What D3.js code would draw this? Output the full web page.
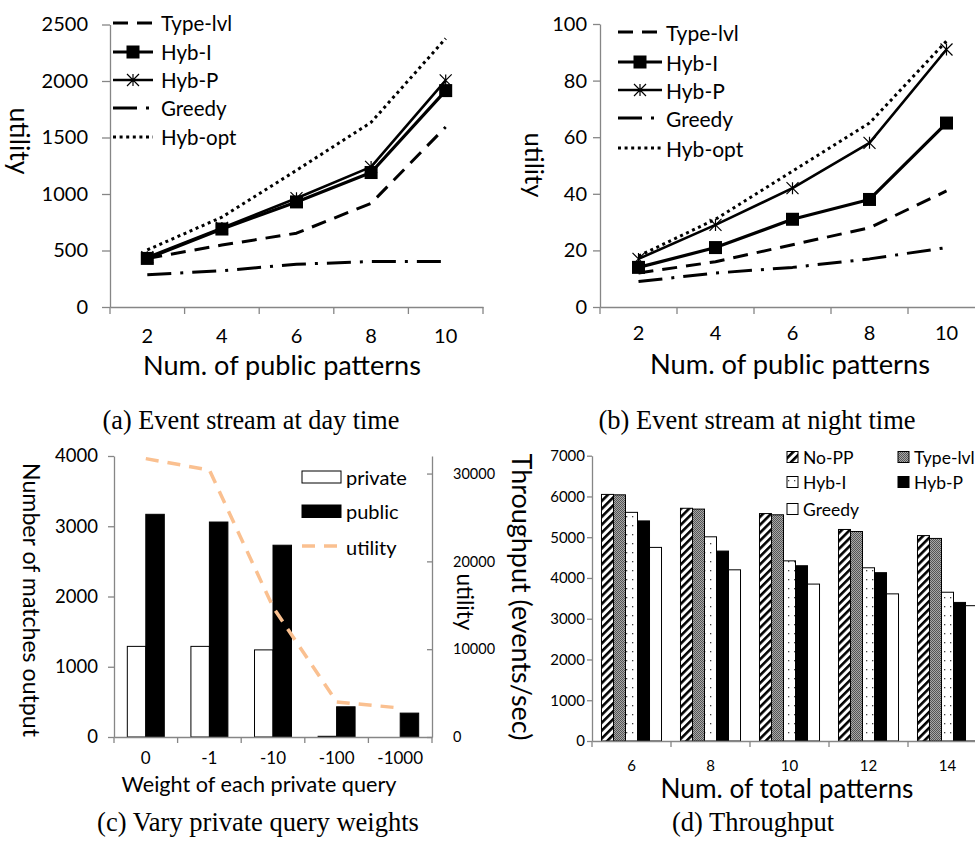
<!DOCTYPE html>
<html><head><meta charset="utf-8">
<script src="https://cdn.jsdelivr.net/npm/d3@7"></script>
<style>
html,body{margin:0;padding:0;background:#fff;}
svg{display:block;}
</style></head>
<body>
<svg id="chart" width="975" height="856"></svg>
<script>
// ---------- DATA ----------
const patternsAB = [2, 4, 6, 8, 10];
const lineSeries = ['Type-lvl', 'Hyb-I', 'Hyb-P', 'Greedy', 'Hyb-opt'];
const dayTypeLvl = [430, 548, 653, 918, 1593];
const dayHybI    = [430, 690, 930, 1190, 1915];
const dayHybP    = [440, 700, 963, 1240, 2005];
const dayGreedy  = [285, 321, 378, 402, 402];
const dayHybOpt  = [505, 795, 1210, 1634, 2376];
const nightTypeLvl = [12, 16, 22, 28, 41];
const nightHybI    = [14, 21, 31, 38, 65];
const nightHybP    = [17, 29, 42, 58, 91];
const nightGreedy  = [9, 12, 14, 17, 21];
const nightHybOpt  = [18, 31, 48, 65, 94];
const ticksDay = [0, 500, 1000, 1500, 2000, 2500];
const ticksNight = [0, 20, 40, 60, 80, 100];

const weights = ['0', '-1', '-10', '-100', '-1000'];
const barSeriesC = ['private', 'public'];
const privateMatches = [1290, 1290, 1240, 10, 0];
const publicMatches  = [3170, 3060, 2730, 430, 340];
const utilityC       = [31700, 30400, 14800, 4000, 3300];
const ticksCLeft  = [0, 1000, 2000, 3000, 4000];
const ticksCRight = [0, 10000, 20000, 30000];

const totalPatterns = ['6', '8', '10', '12', '14'];
const barSeriesD = ['No-PP', 'Type-lvl', 'Hyb-I', 'Hyb-P', 'Greedy'];
const tpNoPP    = [6050, 5710, 5580, 5190, 5040];
const tpTypeLvl = [6040, 5690, 5550, 5140, 4970];
const tpHybI    = [5610, 5010, 4420, 4250, 3650];
const tpHybP    = [5400, 4660, 4300, 4130, 3400];
const tpGreedy  = [4750, 4200, 3850, 3610, 3320];
const ticksD = [0, 1000, 2000, 3000, 4000, 5000, 6000, 7000];

// ---------- SETUP ----------
const FONT = 'Lato, "Open Sans", sans-serif';
const SERIF = '"Liberation Serif", "Times New Roman", serif';
const AXIS = '#868686';
const fmt = d3.format('d');
const svg = d3.select('#chart');
svg.append('rect').attr('width', 975).attr('height', 856).attr('fill', '#fff');

const defs = svg.append('defs');
// No-PP diagonal stripes
const pStripe = defs.append('pattern').attr('id', 'stripe').attr('patternUnits', 'userSpaceOnUse')
  .attr('width', 5.6).attr('height', 5.6).attr('patternTransform', 'rotate(45)');
pStripe.append('rect').attr('width', 5.6).attr('height', 5.6).attr('fill', '#fff');
pStripe.append('rect').attr('width', 2.6).attr('height', 5.6).attr('fill', '#000');
// Type-lvl gray checker
const pCheck = defs.append('pattern').attr('id', 'checker').attr('patternUnits', 'userSpaceOnUse')
  .attr('width', 2).attr('height', 2);
pCheck.append('rect').attr('width', 2).attr('height', 2).attr('fill', '#a8a8a8');
pCheck.append('rect').attr('width', 1).attr('height', 1).attr('fill', '#555');
pCheck.append('rect').attr('x', 1).attr('y', 1).attr('width', 1).attr('height', 1).attr('fill', '#555');
// Hyb-I sparse dots
const pDots = defs.append('pattern').attr('id', 'dots').attr('patternUnits', 'userSpaceOnUse')
  .attr('width', 6).attr('height', 9);
pDots.append('rect').attr('width', 6).attr('height', 9).attr('fill', '#fff');
pDots.append('rect').attr('x', 2).attr('y', 3).attr('width', 1.3).attr('height', 1.3).attr('fill', '#444');

function fitText(t, w) {
  const l = t.node().getComputedTextLength();
  const fs = parseFloat(t.attr('font-size'));
  t.attr('font-size', (fs * w / l).toFixed(2));
  return t;
}
function label(x, y, txt, size, opts = {}) {
  const t = svg.append('text').attr('x', 0).attr('y', 0)
    .attr('transform', `translate(${x},${y})` + (opts.rotate ? ` rotate(${opts.rotate})` : ''))
    .attr('font-family', opts.family || FONT).attr('font-size', size)
    .attr('text-anchor', opts.anchor || 'middle').attr('dominant-baseline', 'central')
    .attr('fill', '#000').text(txt);
  if (opts.fit) fitText(t, opts.fit);
  return t;
}
function styleAxis(g, fontSize) {
  g.select('.domain').attr('stroke', AXIS).attr('stroke-width', 1.3);
  g.selectAll('.tick line').attr('stroke', AXIS).attr('stroke-width', 1.3);
  g.selectAll('.tick text').attr('font-family', FONT).attr('font-size', fontSize).attr('fill', '#000');
  g.attr('font-family', null).attr('font-size', null);
}
function bandBoundaryTicks(x, yAxis, len) {
  const pos = x.domain().map(d => x(d)).concat([x.range()[1]]);
  svg.append('g').selectAll('line').data(pos).join('line')
    .attr('x1', d => d).attr('x2', d => d).attr('y1', yAxis).attr('y2', yAxis + len)
    .attr('stroke', AXIS).attr('stroke-width', 1.3);
}

const lineStyles = {
  'Type-lvl': {dash: '15,9', w: 3},
  'Hyb-I':    {dash: null, w: 3.2, marker: 'square'},
  'Hyb-P':    {dash: null, w: 2.6, marker: 'star'},
  'Greedy':   {dash: '24,9,3,9', w: 3},
  'Hyb-opt':  {dash: '3,3.6', w: 3}
};
function drawMarker(g, kind, cx, cy) {
  if (kind === 'square') {
    g.append('rect').attr('x', cx - 6.5).attr('y', cy - 6.5).attr('width', 13).attr('height', 13).attr('fill', '#000');
  } else if (kind === 'star') {
    const r = 6;
    const p = `M${cx - r},${cy - r}L${cx + r},${cy + r}M${cx - r},${cy + r}L${cx + r},${cy - r}M${cx},${cy - r}L${cx},${cy + r}`;
    g.append('path').attr('d', p).attr('stroke', '#000').attr('stroke-width', 1.2).attr('fill', 'none');
  }
}

// ---------- LINE PANELS (a, b) ----------
function linePanel(cfg) {
  const x = d3.scaleBand().domain(patternsAB).range(cfg.xr);
  const y = d3.scaleLinear().domain([0, cfg.ymax]).range([cfg.y0, cfg.y1]);
  const gy = svg.append('g').attr('transform', `translate(${cfg.xr[0]},0)`)
    .call(d3.axisLeft(y).tickValues(cfg.ticks).tickFormat(fmt).tickSize(cfg.tickLen).tickPadding(cfg.tickPad).tickSizeOuter(0));
  styleAxis(gy, cfg.tickFont);
  const gx = svg.append('g').attr('transform', `translate(0,${cfg.y0})`)
    .call(d3.axisBottom(x).tickSize(0).tickPadding(cfg.xTickPad).tickSizeOuter(0));
  styleAxis(gx, cfg.tickFont);
  bandBoundaryTicks(x, cfg.y0, 7);

  const cx = d => x(d) + x.bandwidth() / 2;
  const order = ['Greedy', 'Type-lvl', 'Hyb-opt', 'Hyb-I', 'Hyb-P'];
  order.forEach(name => {
    const vals = cfg.data[name];
    const st = lineStyles[name];
    const line = d3.line().x((v, i) => cx(patternsAB[i])).y(v => y(v));
    svg.append('path').attr('d', line(vals)).attr('fill', 'none').attr('stroke', '#000')
      .attr('stroke-width', st.w).attr('stroke-dasharray', st.dash).attr('stroke-linejoin', 'round');
    if (st.marker) {
      const mg = svg.append('g');
      vals.forEach((v, i) => drawMarker(mg, st.marker, cx(patternsAB[i]), y(v)));
    }
  });
  // legend
  lineSeries.forEach((name, i) => {
    const st = lineStyles[name];
    const ly = cfg.leg.y[i];
    svg.append('line').attr('x1', cfg.leg.x1).attr('x2', cfg.leg.x2).attr('y1', ly).attr('y2', ly)
      .attr('stroke', '#000').attr('stroke-width', st.w).attr('stroke-dasharray', st.dash);
    if (st.marker) drawMarker(svg.append('g'), st.marker, (cfg.leg.x1 + cfg.leg.x2) / 2, ly);
    label(cfg.leg.tx, ly, name, cfg.leg.font, {anchor: 'start'});
  });
  label(cfg.ytitle[0], cfg.ytitle[1], 'utility', 26, {rotate: 90, fit: cfg.ytitle[2]});
  label(cfg.xtitle[0], cfg.xtitle[1], 'Num. of public patterns', 24, {fit: cfg.xtitle[2]});
}

linePanel({
  xr: [110, 483], y0: 307, y1: 24.5, ymax: 2500, ticks: ticksDay, tickLen: 8, tickPad: 14, tickFont: 20, xTickPad: 22,
  data: {'Type-lvl': dayTypeLvl, 'Hyb-I': dayHybI, 'Hyb-P': dayHybP, 'Greedy': dayGreedy, 'Hyb-opt': dayHybOpt},
  leg: {x1: 113, x2: 153, tx: 161, y: [23, 52, 80, 108, 137], font: 20.5},
  ytitle: [20, 141, 67], xtitle: [282, 364, 278]
});
linePanel({
  xr: [600, 985], y0: 307, y1: 24, ymax: 100, ticks: ticksNight, tickLen: 7, tickPad: 6, tickFont: 20, xTickPad: 19,
  data: {'Type-lvl': nightTypeLvl, 'Hyb-I': nightHybI, 'Hyb-P': nightHybP, 'Greedy': nightGreedy, 'Hyb-opt': nightHybOpt},
  leg: {x1: 618, x2: 662, tx: 666, y: [32, 62, 90, 118, 148], font: 21},
  ytitle: [535, 165, 65], xtitle: [790, 363, 280]
});

// ---------- PANEL c ----------
(function () {
  const x = d3.scaleBand().domain(weights).range([114, 432]);
  const x1 = d3.scaleBand().domain(barSeriesC).range([0, x.bandwidth()]).paddingOuter(0.72);
  const yL = d3.scaleLinear().domain([0, 4000]).range([737, 456]);
  const yR = d3.scaleLinear().domain([0, 32000]).range([737, 456]);
  const gL = svg.append('g').attr('transform', 'translate(114,0)')
    .call(d3.axisLeft(yL).tickValues(ticksCLeft).tickFormat(fmt).tickSize(6).tickPadding(10).tickSizeOuter(0));
  styleAxis(gL, 18.5);
  const gR = svg.append('g').attr('transform', 'translate(432,0)')
    .call(d3.axisRight(yR).tickValues(ticksCRight).tickFormat(fmt).tickSize(-5).tickPadding(21).tickSizeOuter(0));
  styleAxis(gR, 14.5);

  const vals = {private: privateMatches, public: publicMatches};
  barSeriesC.forEach(s => {
    svg.append('g').selectAll('rect').data(weights).join('rect')
      .attr('x', d => x(d) + x1(s)).attr('width', x1.bandwidth())
      .attr('y', (d, i) => yL(vals[s][i])).attr('height', (d, i) => yL(0) - yL(vals[s][i]))
      .attr('fill', s === 'private' ? '#fff' : '#000').attr('stroke', '#000').attr('stroke-width', 1);
  });
  const gx = svg.append('g').attr('transform', 'translate(0,737)')
    .call(d3.axisBottom(x).tickSize(0).tickPadding(15).tickSizeOuter(0));
  styleAxis(gx, 17);
  bandBoundaryTicks(x, 737, 6);

  const line = d3.line().x((v, i) => x(weights[i]) + x.bandwidth() / 2).y(v => yR(v));
  svg.append('path').attr('d', line(utilityC)).attr('fill', 'none').attr('stroke', '#FAC090')
    .attr('stroke-width', 3.5).attr('stroke-dasharray', '13,9');

  // legend
  svg.append('rect').attr('x', 302).attr('y', 471).attr('width', 39).attr('height', 12).attr('fill', '#fff').attr('stroke', '#000');
  svg.append('rect').attr('x', 302).attr('y', 505).attr('width', 39).attr('height', 12.5).attr('fill', '#000').attr('stroke', '#000');
  svg.append('line').attr('x1', 302).attr('x2', 338).attr('y1', 546).attr('y2', 546)
    .attr('stroke', '#FAC090').attr('stroke-width', 3.5).attr('stroke-dasharray', '13,9');
  label(346, 477, 'private', 20, {anchor: 'start'});
  label(346, 511, 'public', 20, {anchor: 'start'});
  label(346, 547, 'utility', 20, {anchor: 'start'});

  label(32, 600, 'Number of matches output', 24, {rotate: 90, fit: 274});
  label(465, 602, 'utility', 23, {rotate: 90, fit: 57});
  label(259, 784, 'Weight of each private query', 21, {fit: 275});
})();

// ---------- PANEL d ----------
(function () {
  const x = d3.scaleBand().domain(totalPatterns).range([592, 987]);
  const x1 = d3.scaleBand().domain(barSeriesD).range([0, x.bandwidth()]).paddingOuter(0.79);
  const y = d3.scaleLinear().domain([0, 7000]).range([741, 455.7]);
  const gy = svg.append('g').attr('transform', 'translate(592,0)')
    .call(d3.axisLeft(y).tickValues(ticksD).tickFormat(fmt).tickSize(5).tickPadding(2).tickSizeOuter(0));
  styleAxis(gy, 15);
  const fills = {'No-PP': 'url(#stripe)', 'Type-lvl': 'url(#checker)', 'Hyb-I': 'url(#dots)', 'Hyb-P': '#000', 'Greedy': '#fff'};
  const vals = {'No-PP': tpNoPP, 'Type-lvl': tpTypeLvl, 'Hyb-I': tpHybI, 'Hyb-P': tpHybP, 'Greedy': tpGreedy};
  barSeriesD.forEach(s => {
    svg.append('g').selectAll('rect').data(totalPatterns).join('rect')
      .attr('x', d => x(d) + x1(s)).attr('width', x1.bandwidth())
      .attr('y', (d, i) => y(vals[s][i])).attr('height', (d, i) => y(0) - y(vals[s][i]))
      .attr('fill', fills[s]).attr('stroke', '#000').attr('stroke-width', 1);
  });
  const gx = svg.append('g').attr('transform', 'translate(0,741)')
    .call(d3.axisBottom(x).tickSize(0).tickPadding(19).tickSizeOuter(0));
  styleAxis(gx, 15);
  bandBoundaryTicks(x, 741, 6);

  // legend
  const legPos = [[787, 457], [898, 457], [787, 482], [898, 482], [787, 509]];
  barSeriesD.forEach((s, i) => {
    const [lx, ly] = legPos[i];
    svg.append('rect').attr('x', lx).attr('y', ly - 5.5).attr('width', 11).attr('height', 11)
      .attr('fill', fills[s]).attr('stroke', '#000').attr('stroke-width', 1);
    label(lx + 16, ly, s, 17.5, {anchor: 'start'});
  });

  label(522, 597, 'Throughput (events/sec)', 26, {rotate: 90, fit: 287});
  label(787, 788, 'Num. of total patterns', 22, {fit: 253});
})();

// ---------- CAPTIONS ----------
label(251, 420, '(a) Event stream at day time', 23, {family: SERIF, fit: 297});
label(757, 420, '(b) Event stream at night time', 23, {family: SERIF, fit: 317});
label(258, 822, '(c) Vary private query weights', 23, {family: SERIF, fit: 322});
label(753, 822, '(d) Throughput', 23, {family: SERIF, fit: 162});
</script>
</body></html>
